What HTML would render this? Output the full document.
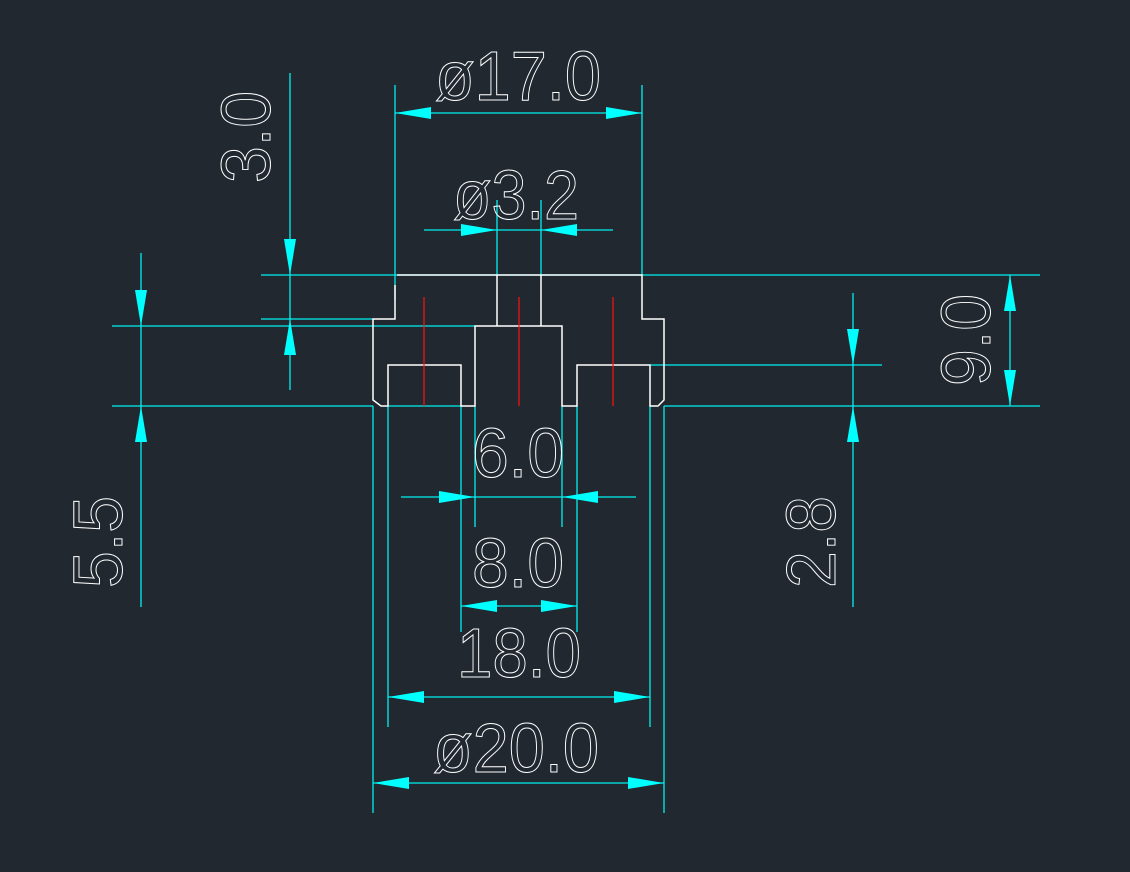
<!DOCTYPE html>
<html><head><meta charset="utf-8"><style>
html,body{margin:0;padding:0;background:#212830;}
svg{display:block}
text{font-family:"Liberation Sans",sans-serif;fill:none;stroke:#fff;stroke-width:1;font-size:70px}
</style></head><body>
<svg width="1130" height="872" viewBox="0 0 1130 872" xmlns="http://www.w3.org/2000/svg">
<rect width="1130" height="872" fill="#212830"/>
<defs>
<path id="ar" d="M0,0 L36,-6 L36,6 Z" fill="#00ffff"/>
</defs>
<g stroke="#00f0f0" stroke-width="1.3" fill="none">
<line x1="261" y1="275" x2="1040" y2="275"/>
<line x1="261" y1="319" x2="373" y2="319"/>
<line x1="112" y1="326" x2="475" y2="326"/>
<line x1="650" y1="365" x2="882" y2="365"/>
<line x1="112" y1="406" x2="373" y2="406"/>
<line x1="664" y1="406" x2="1040" y2="406"/>
<line x1="388" y1="406" x2="461" y2="406"/>
<line x1="395" y1="85" x2="395" y2="300"/>
<line x1="642" y1="85" x2="642" y2="275"/>
<line x1="497" y1="200" x2="497" y2="275"/>
<line x1="541" y1="200" x2="541" y2="275"/>
<line x1="475" y1="406" x2="475" y2="527"/>
<line x1="562" y1="406" x2="562" y2="527"/>
<line x1="461" y1="406" x2="461" y2="632"/>
<line x1="577" y1="406" x2="577" y2="632"/>
<line x1="388" y1="406" x2="388" y2="727"/>
<line x1="650" y1="406" x2="650" y2="727"/>
<line x1="373" y1="406" x2="373" y2="813"/>
<line x1="664" y1="406" x2="664" y2="813"/>
<line x1="395" y1="113" x2="642" y2="113"/>
<line x1="424" y1="230" x2="613" y2="230"/>
<line x1="290" y1="73" x2="290" y2="390"/>
<line x1="141" y1="253" x2="141" y2="607"/>
<line x1="1010" y1="275" x2="1010" y2="406"/>
<line x1="853" y1="293" x2="853" y2="607"/>
<line x1="401" y1="497" x2="636" y2="497"/>
<line x1="461" y1="606" x2="577" y2="606"/>
<line x1="388" y1="697" x2="650" y2="697"/>
<line x1="373" y1="783" x2="664" y2="783"/>
</g>
<use href="#ar" transform="translate(395,113)"/>
<use href="#ar" transform="translate(642,113) rotate(180)"/>
<use href="#ar" transform="translate(497,230) rotate(180)"/>
<use href="#ar" transform="translate(541,230)"/>
<use href="#ar" transform="translate(290,275) rotate(-90)"/>
<use href="#ar" transform="translate(290,319) rotate(90)"/>
<use href="#ar" transform="translate(141,326) rotate(-90)"/>
<use href="#ar" transform="translate(141,406) rotate(90)"/>
<use href="#ar" transform="translate(1010,275) rotate(90)"/>
<use href="#ar" transform="translate(1010,406) rotate(-90)"/>
<use href="#ar" transform="translate(853,365) rotate(-90)"/>
<use href="#ar" transform="translate(853,406) rotate(90)"/>
<use href="#ar" transform="translate(475,497) rotate(180)"/>
<use href="#ar" transform="translate(562,497)"/>
<use href="#ar" transform="translate(461,606)"/>
<use href="#ar" transform="translate(577,606) rotate(180)"/>
<use href="#ar" transform="translate(388,697)"/>
<use href="#ar" transform="translate(650,697) rotate(180)"/>
<use href="#ar" transform="translate(373,783)"/>
<use href="#ar" transform="translate(664,783) rotate(180)"/>
<g stroke="#fff" stroke-width="1.5" fill="none">
<polyline points="397,275 642,275 642,319 664,319 664,400 658,406 650,406 650,365 577,365 577,406 562,406 562,326 475,326 475,406 461,406 461,365 388,365 388,406 381,406 373,400 373,319 395,319 395,285"/>
<line x1="497" y1="275" x2="497" y2="326"/>
<line x1="541" y1="275" x2="541" y2="326"/>
</g>
<g stroke="#ff1010" stroke-width="1.2">
<line x1="424" y1="297" x2="424" y2="406"/>
<line x1="519" y1="297" x2="519" y2="406"/>
<line x1="613" y1="297" x2="613" y2="406"/>
</g>
<text x="435" y="100" textLength="166" lengthAdjust="spacingAndGlyphs">ø17.0</text>
<text x="453" y="219" textLength="126" lengthAdjust="spacingAndGlyphs">ø3.2</text>
<text x="472" y="477" textLength="92" lengthAdjust="spacingAndGlyphs">6.0</text>
<text x="472" y="587" textLength="92" lengthAdjust="spacingAndGlyphs">8.0</text>
<text x="457" y="677" textLength="124" lengthAdjust="spacingAndGlyphs">18.0</text>
<text x="433" y="772" textLength="166" lengthAdjust="spacingAndGlyphs">ø20.0</text>
<text transform="translate(270,183) rotate(-90)" textLength="92" lengthAdjust="spacingAndGlyphs">3.0</text>
<text transform="translate(122,588) rotate(-90)" textLength="92" lengthAdjust="spacingAndGlyphs">5.5</text>
<text transform="translate(990,386) rotate(-90)" textLength="92" lengthAdjust="spacingAndGlyphs">9.0</text>
<text transform="translate(835,588) rotate(-90)" textLength="92" lengthAdjust="spacingAndGlyphs">2.8</text>
</svg>
</body></html>
